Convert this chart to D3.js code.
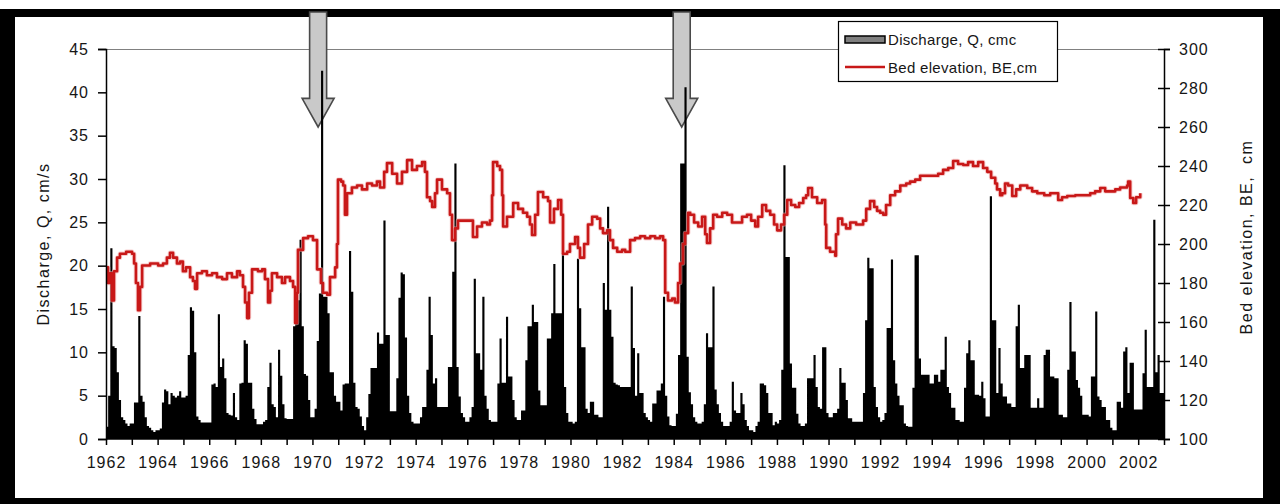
<!DOCTYPE html>
<html><head><meta charset="utf-8">
<script src="https://cdn.jsdelivr.net/npm/d3@7"></script>
<style>
html,body{margin:0;padding:0;background:#fff;}
svg{display:block;}
text{font-family:"Liberation Sans",Arial,sans-serif;fill:#161616;}
</style></head><body>
<svg id="c" width="1280" height="504"></svg>
<script>
// ---------- DATA ----------
const yearStart = 1962, yearEnd = 2003;
const xTickLabels = d3.range(1962, 2003, 2);
const leftTicks = d3.range(0, 46, 5);
const rightTicks = d3.range(100, 301, 20);
// Monthly discharge, Q (one row of 12 months per year, 1962..2002)
const discharge1960s = [
  1.4,5.0,22.0,10.7,10.5,7.7,4.5,2.5,2.2,1.8,1.5,1.8,
  1.8,4.2,4.2,14.2,5.0,4.3,2.5,1.5,1.3,1.0,0.8,1.0,
  1.0,1.2,4.2,5.7,5.5,4.0,5.3,5.0,4.8,5.0,5.5,4.8,
  4.8,5.0,9.7,15.2,14.8,10.0,2.6,2.2,1.9,1.9,1.9,1.9,
  1.9,6.3,6.4,6.0,14.4,8.3,9.3,7.0,3.0,2.8,2.7,5.3,
  2.5,2.2,6.4,6.5,11.4,11.0,6.5,6.5,3.5,2.3,1.7,1.7,
  1.7,2.0,2.2,6.0,8.8,4.0,3.7,2.5,10.3,7.3,4.0,2.4,
  2.3,2.3,2.3,13.0,16.0,16.0,23.0,13.0,7.5,7.3,4.5,2.5
];
const discharge1970s = [
  2.5,3.5,11.3,16.8,42.5,16.4,16.4,14.5,7.7,7.7,5.0,4.3,
  4.3,3.3,6.3,6.4,6.4,21.7,17.0,6.5,3.7,3.5,2.6,1.5,
  1.0,2.5,5.2,8.2,8.2,8.2,12.3,11.0,11.0,25.2,12.0,12.0,
  3.2,3.2,3.2,7.0,16.3,19.2,19.0,11.7,5.0,3.0,2.0,1.8,
  1.8,1.8,2.5,3.7,3.7,8.0,16.4,12.0,6.4,7.0,3.7,3.7,
  3.7,3.7,3.7,8.3,8.3,19.3,31.8,8.3,4.9,3.0,2.5,2.0,
  2.0,2.5,3.7,18.5,9.9,9.9,8.0,16.4,5.0,3.5,2.2,2.0,
  2.0,2.0,6.4,11.6,6.5,6.5,14.1,7.2,7.2,4.5,2.5,2.2,
  2.2,3.3,3.3,9.1,13.0,13.0,15.5,13.5,13.5,5.6,3.9,3.9,
  3.9,11.6,11.6,14.5,20.2,14.5,14.5,14.5,21.5,6.0,3.0,2.0
];
const discharge1980s = [
  2.0,1.8,2.0,20.8,15.1,10.6,10.6,3.5,3.0,4.3,4.3,2.8,
  2.8,2.5,2.5,18.0,14.9,26.8,14.9,11.8,6.5,6.3,6.2,6.0,
  6.0,6.0,6.0,6.0,17.6,10.5,5.0,9.9,5.3,5.3,3.0,2.5,
  2.2,2.0,4.1,4.1,5.6,5.6,6.4,16.4,5.0,2.6,1.6,1.5,
  1.5,2.9,9.7,31.8,31.8,40.6,9.5,5.4,4.0,2.5,2.0,1.8,
  1.8,2.0,4.0,12.2,10.6,10.6,17.6,5.7,4.0,3.0,2.0,1.5,
  1.5,1.5,2.0,6.6,3.3,3.0,3.0,5.3,4.0,2.2,1.5,1.0,
  1.0,0.8,1.5,2.0,6.4,6.4,6.2,5.3,3.0,3.0,1.6,2.0,
  1.8,2.2,8.0,31.6,21.0,21.0,8.7,5.9,5.9,2.9,1.8,1.5,
  1.5,1.8,7.0,7.0,7.0,9.7,6.0,3.7,3.5,10.6,10.6,3.0
];
const discharge1990s = [
  2.5,2.5,3.0,3.0,3.5,8.2,6.5,6.5,4.5,2.4,2.4,2.0,
  2.0,2.0,2.0,2.0,5.3,13.7,20.9,19.7,19.7,6.0,3.7,2.5,
  2.0,2.2,3.0,12.8,12.8,20.7,9.1,6.4,5.0,3.9,3.9,1.8,
  1.5,1.4,1.4,5.9,21.2,21.2,9.3,7.4,7.4,7.4,7.4,6.4,
  6.4,7.4,7.4,6.6,8.0,8.0,11.8,6.0,5.3,3.6,3.6,2.2,
  2.2,2.0,2.0,5.9,9.9,11.4,9.1,9.1,5.1,5.1,5.0,6.6,
  4.7,2.6,2.6,28.0,13.7,13.7,5.3,10.5,6.4,4.9,4.9,4.1,
  4.1,3.7,3.7,13.0,15.5,8.2,8.2,9.7,9.7,9.7,3.6,3.6,
  3.6,4.7,3.6,3.6,9.7,10.3,10.3,7.2,7.2,7.0,7.0,2.8,
  2.8,2.5,2.5,8.0,15.8,10.1,10.1,6.8,5.9,5.0,2.8,2.8
];
const discharge2000s = [
  2.8,2.6,7.2,7.2,14.7,4.9,4.5,3.7,3.7,2.2,2.2,1.3,
  1.0,1.0,4.3,4.3,3.6,10.1,10.6,5.3,8.8,8.8,3.4,3.4,
  3.4,3.4,7.6,12.6,6.0,6.0,6.0,25.3,7.7,9.7,5.3,5.3
];
// Bed elevation, BE (time in decimal years, value in cm)
const beYears = [
  1962.00,1962.08,1962.16,1962.23,1962.31,1962.43,1962.54,1962.78,1963.01,1963.09,1963.16,1963.24,1963.32,1963.40,1963.71,
  1964.02,1964.21,1964.36,1964.48,1964.60,1964.75,1964.87,1964.98,1965.10,1965.26,1965.37,1965.45,1965.53,1965.72,1965.91,
  1966.11,1966.30,1966.50,1966.69,1966.88,1967.08,1967.19,1967.31,1967.39,1967.47,1967.54,1967.66,1967.89,1968.05,1968.16,
  1968.28,1968.36,1968.43,1968.63,1968.82,1968.94,1969.13,1969.25,1969.33,1969.40,1969.44,1969.64,1969.83,1970.02,1970.18,
  1970.33,1970.41,1970.57,1970.68,1970.88,1970.95,1970.99,1971.11,1971.19,1971.26,1971.34,1971.53,1971.73,1971.92,1972.12,
  1972.31,1972.50,1972.62,1972.78,1972.89,1973.09,1973.28,1973.47,1973.67,1973.86,1974.05,1974.25,1974.36,1974.44,1974.56,
  1974.64,1974.75,1974.83,1975.02,1975.22,1975.33,1975.41,1975.53,1975.64,1975.91,1976.11,1976.22,1976.38,1976.57,1976.77,
  1976.88,1976.96,1977.00,1977.16,1977.27,1977.35,1977.39,1977.54,1977.78,1977.97,1978.16,1978.32,1978.43,1978.51,1978.63,
  1978.74,1978.94,1979.13,1979.21,1979.36,1979.52,1979.64,1979.71,1979.87,1979.98,1980.18,1980.29,1980.37,1980.53,1980.68,
  1980.84,1981.03,1981.15,1981.26,1981.42,1981.53,1981.65,1981.81,1982.00,1982.12,1982.31,1982.50,1982.70,1982.89,1983.09,
  1983.28,1983.47,1983.59,1983.67,1983.78,1983.94,1984.05,1984.17,1984.25,1984.36,1984.44,1984.56,1984.64,1984.79,1984.95,
  1985.10,1985.22,1985.29,1985.41,1985.53,1985.68,1985.88,1986.07,1986.26,1986.46,1986.65,1986.84,1987.00,1987.16,1987.27,
  1987.43,1987.58,1987.74,1987.89,1988.01,1988.16,1988.28,1988.40,1988.55,1988.71,1988.86,1989.02,1989.13,1989.21,1989.36,
  1989.56,1989.75,1989.87,1989.91,1990.06,1990.26,1990.29,1990.37,1990.53,1990.68,1990.84,1991.07,1991.34,1991.46,1991.61,
  1991.77,1991.88,1992.00,1992.12,1992.23,1992.39,1992.58,1992.78,1993.01,1993.16,1993.36,1993.55,1993.78,1994.05,1994.25,
  1994.44,1994.64,1994.83,1995.02,1995.22,1995.41,1995.60,1995.80,1995.99,1996.15,1996.30,1996.46,1996.53,1996.65,1996.73,
  1996.84,1996.96,1997.12,1997.27,1997.43,1997.70,1997.89,1998.09,1998.36,1998.59,1998.90,1999.05,1999.25,1999.56,1999.87,
  2000.14,2000.33,2000.53,2000.72,2000.91,2001.11,2001.30,2001.57,2001.61,2001.69,2001.81,2001.92,2002.08
];
const beValues = [
  188,180,185,171,186,193,195,196,195,190,180,166,178,189,190,
  189,190,193,195.5,193,190,191,186,188,183,181,177,185,186,184,
  185,183,182,185,183,186,184,178,170,162,175,187,186,187,182,
  170,176,185,183,180,183,181,178,159.5,175,197,203,204,202,187,
  180,175,174,183,188,200,233,232,230,215,226,229,230,228,231,
  230,232,229,237,241.5,236,231,237,243,238,240,242,237,224,222,
  219,226,233,228,226,215,202,208,212,212,212,203.6,209,211,210,
  212,225,242,240,238,225,209,214,221,218,216,214,210,204.6,215,
  226.7,224,222,211,218,222.6,215,195,196,200,203.6,198,193,200,210,
  214,213,208,205.6,207,202,198,196,197,196,202,203,204,203,204,
  203,204,202,175,171,172,170,180,190,200,205.6,216,215,211,209,
  214,205,200.5,208,215,214,216,215,211,211,214,215,212,209,214,
  220,217,215,210,207,210,215,222.6,220,219,221,223.6,225,228.7,224,
  221,222.6,210,198,196,194,205,213,210,208,211,210,212,218,222,
  219,217,216,215,220,225,227,230,231,232,233,235,235,235,236,
  238,239,242.6,241,240.5,242,240,242,239,237,234,231,228,225,226,
  231,230,224.6,228,230,228.7,227,226,225,226,222.6,224,224.6,225,225,
  226,227,228.7,227,227,228,229,230,232,223.6,221,224,226
];
const arrowYears = [1970.22, 1984.31];
const arrowTipQ = 36;
const arrowNeckQ = 39.3;
const legendLabels = ["Discharge, Q, cmc", "Bed elevation, BE,cm"];

// ---------- CHART ----------
const discharge = [].concat(discharge1960s, discharge1970s, discharge1980s, discharge1990s, discharge2000s);
const qSeries = discharge.map((v, i) => ({t: yearStart + i / 12, v}));
qSeries.push({t: yearEnd, v: discharge[discharge.length - 1]});
const beSeries = beYears.map((t, i) => ({t, v: beValues[i]}));

const svg = d3.select("#c");
const W = 1280, H = 504;
const plot = {l: 106, r: 1164, t: 49, b: 439};

const x = d3.scaleLinear().domain([yearStart, yearEnd]).range([plot.l, plot.r]);
const yL = d3.scaleLinear().domain([0, 45]).range([plot.b, plot.t]);
const yR = d3.scaleLinear().domain([100, 300]).range([plot.b, plot.t]);

// frame
svg.append("rect").attr("x", 0).attr("y", 0).attr("width", W).attr("height", H).attr("fill", "#fff");
svg.append("rect").attr("x", 0).attr("y", 9).attr("width", W).attr("height", H - 9).attr("fill", "#000");
svg.append("rect").attr("x", 15).attr("y", 17).attr("width", 1248).attr("height", 481).attr("fill", "#fff");

// top border of plot
svg.append("line").attr("x1", plot.l).attr("x2", plot.r).attr("y1", plot.t + 0.5).attr("y2", plot.t + 0.5)
  .attr("stroke", "#808080").attr("stroke-width", 1.2);

// arrows
arrowYears.forEach(yr => {
  const cx = x(yr), tip = yL(arrowTipQ), neck = yL(arrowNeckQ);
  const pts = [[cx - 8.5, 12], [cx + 8.5, 12], [cx + 8.5, neck], [cx + 16, neck], [cx, tip], [cx - 16, neck], [cx - 8.5, neck]];
  svg.append("path").attr("d", d3.line()(pts) + "Z")
    .attr("fill", "#c9c9c9").attr("stroke", "#4a4a4a").attr("stroke-width", 1.6).attr("stroke-linejoin", "miter");
});

// discharge area
const area = d3.area().curve(d3.curveStepAfter)
  .x(d => x(d.t)).y0(yL(0)).y1(d => yL(d.v));
svg.append("path").datum(qSeries).attr("d", area).attr("fill", "#000");

// bed elevation line (stepped, as in the original)
const line = d3.line().curve(d3.curveStepAfter).x(d => x(d.t)).y(d => yR(d.v));
svg.append("path").datum(beSeries).attr("d", line).attr("fill", "none")
  .attr("stroke", "#f0a8a8").attr("stroke-width", 4.5).attr("stroke-linejoin", "round").attr("opacity", 0.55);
svg.append("path").datum(beSeries).attr("d", line).attr("fill", "none")
  .attr("stroke", "#c81818").attr("stroke-width", 2.6).attr("stroke-linejoin", "round");

// axes
const fontSize = "16px";
const axL = svg.append("g").attr("transform", `translate(${plot.l},0)`)
  .call(d3.axisLeft(yL).tickValues(leftTicks).tickSize(8).tickPadding(9).tickFormat(d3.format("d")));
const axR = svg.append("g").attr("transform", `translate(${plot.r},0)`)
  .call(d3.axisRight(yR).tickValues(rightTicks).tickSize(6).tickPadding(9).tickFormat(d3.format("d")));
axR.selectAll(".tick line").attr("x1", -6);
const axB = svg.append("g").attr("transform", `translate(0,${plot.b})`)
  .call(d3.axisBottom(x).tickValues(d3.range(yearStart, yearEnd + 1, 1)).tickSize(6).tickPadding(12)
    .tickFormat(d => xTickLabels.includes(d) ? d : ""));
[axL, axR, axB].forEach(a => {
  a.select(".domain").attr("stroke", "#000").attr("stroke-width", 1.5);
  a.selectAll(".tick line").attr("stroke", "#000").attr("stroke-width", 1.5);
  a.selectAll(".tick text").attr("font-size", fontSize).attr("fill", "#161616")
    .attr("font-family", "'Liberation Sans', Arial, sans-serif").style("letter-spacing", "1px");
});
axB.select(".domain").attr("d", `M${plot.l},0H${plot.r}`);

// axis titles
svg.append("text").attr("transform", `translate(49,${(plot.t + plot.b) / 2}) rotate(-90)`)
  .attr("text-anchor", "middle").attr("font-size", "16px").style("letter-spacing", "1.5px")
  .text("Discharge, Q, cm/s");
svg.append("text").attr("transform", `translate(1252,237) rotate(-90)`)
  .attr("text-anchor", "middle").attr("font-size", "16px").style("letter-spacing", "1.5px")
  .style("white-space", "pre").text("Bed elevation, BE,  cm");

// legend
const lg = svg.append("g");
lg.append("rect").attr("x", 838.5).attr("y", 21.5).attr("width", 219).attr("height", 60)
  .attr("fill", "#fff").attr("stroke", "#000").attr("stroke-width", 1.2);
lg.append("rect").attr("x", 845).attr("y", 36).attr("width", 40).attr("height", 7)
  .attr("fill", "#7f7f7f").attr("stroke", "#000").attr("stroke-width", 1.5);
lg.append("line").attr("x1", 845).attr("x2", 885).attr("y1", 67).attr("y2", 67)
  .attr("stroke", "#c81818").attr("stroke-width", 2.4);
lg.selectAll("text.lt").data(legendLabels).enter().append("text").attr("class", "lt")
  .attr("x", 888).attr("y", (d, i) => 45 + i * 28).attr("font-size", "15px")
  .style("letter-spacing", "0.3px").text(d => d);
</script>
</body></html>
